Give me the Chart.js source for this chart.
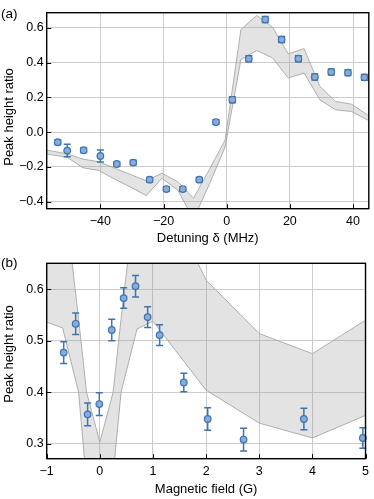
<!DOCTYPE html>
<html>
<head>
<meta charset="utf-8">
<script src="https://cdn.jsdelivr.net/npm/chart.js@4.4.0/dist/chart.umd.min.js"></script>
<style>
  html, body { margin: 0; padding: 0; background: #fff; }
  #wrap { position: relative; width: 374px; height: 499px; }
  canvas { position: absolute; left: 0; }
</style>
</head>
<body>
<div id="wrap">
  <canvas id="chartA" width="374" height="250" style="top:0"></canvas>
  <canvas id="chartB" width="374" height="249" style="top:250px"></canvas>
</div>
<script>
// Panel (a): peak height ratio vs detuning
const detuning = [-53.5, -50.5, -45.3, -40, -34.8, -29.6, -24.4, -19.1, -13.9, -8.7, -3.4, 1.8, 7, 12.2, 17.4, 22.7, 27.9, 33.1, 38.4, 43.6];
const ratioA = [-0.058, -0.106, -0.104, -0.137, -0.183, -0.175, -0.273, -0.327, -0.327, -0.273, 0.058, 0.186, 0.422, 0.647, 0.532, 0.422, 0.317, 0.346, 0.342, 0.315];
const errA = [0.013, 0.036, 0.013, 0.034, 0.013, 0.013, 0.013, 0.013, 0.013, 0.013, 0.013, 0.017, 0.017, 0.017, 0.017, 0.017, 0.017, 0.017, 0.017, 0.017];
const bandXA = [-60.5, -55.5, -50.5, -45.5, -40.5, -35.5, -30.5, -25.5, -20.5, -15.5, -10.5, -5.5, -0.5, 4.5, 9.5, 14.5, 19.5, 24.5, 29.5, 34.5, 39.5, 44.5, 49.5];
const upperA = [-0.09, -0.108, -0.125, -0.155, -0.17, -0.207, -0.243, -0.28, -0.236, -0.285, -0.38, -0.215, -0.045, 0.59, 0.67, 0.603, 0.45, 0.48, 0.263, 0.176, 0.161, 0.10, 0.05];
const lowerA = [-0.115, -0.13, -0.145, -0.205, -0.22, -0.27, -0.315, -0.365, -0.265, -0.333, -0.5, -0.3, -0.085, 0.417, 0.469, 0.427, 0.311, 0.34, 0.186, 0.128, 0.119, 0.071, 0.03];
const xTicksA = [-40, -20, 0, 20, 40];
const yTicksA = [-0.4, -0.2, 0.0, 0.2, 0.4, 0.6];

// Panel (b): peak height ratio vs magnetic field
const field = [-0.68, -0.455, -0.23, -0.01, 0.224, 0.448, 0.672, 0.9, 1.125, 1.58, 2.03, 2.705, 3.84, 4.95];
const ratioB = [0.477, 0.533, 0.357, 0.377, 0.521, 0.583, 0.606, 0.546, 0.511, 0.419, 0.348, 0.308, 0.348, 0.311];
const errB = [0.021, 0.021, 0.022, 0.022, 0.021, 0.02, 0.021, 0.02, 0.02, 0.018, 0.022, 0.022, 0.021, 0.02];
const bandXB = [-1, -0.7, -0.4, -0.25, 0, 0.25, 0.4, 0.7, 1, 2, 3, 4, 5];
const upperB = [1.08, 0.81, 0.543, 0.40, 0.303, 0.40, 0.543, 0.81, 0.83, 0.618, 0.514, 0.475, 0.54];
const lowerB = [0.536, 0.525, 0.40, 0.225, 0.15, 0.24, 0.40, 0.523, 0.538, 0.404, 0.34, 0.311, 0.355];
const xTicksB = [-1, 0, 1, 2, 3, 4, 5];
const yTicksB = [0.3, 0.4, 0.5, 0.6];

const FONT = "'Liberation Sans', Arial, sans-serif";
const BLUE = '#3b74b2';
const MARKER = '#8aabd6';

const minus = s => String(s).replace('-', '\u2212');
const pts = (xs, ys) => xs.map((x, i) => ({ x, y: ys[i] }));

// error bars drawn just before the marker dataset
const errorBars = {
  id: 'errorBars',
  beforeDatasetDraw(chart, args) {
    const ds = chart.data.datasets[args.index];
    if (!ds.errors) return;
    const { ctx, scales: { x, y } } = chart;
    ctx.save();
    ctx.strokeStyle = BLUE;
    ctx.lineWidth = 1.5;
    ds.data.forEach((p, i) => {
      const px = x.getPixelForValue(p.x);
      const top = y.getPixelForValue(p.y + ds.errors[i]);
      const bot = y.getPixelForValue(p.y - ds.errors[i]);
      ctx.beginPath();
      ctx.moveTo(px, top); ctx.lineTo(px, bot);
      ctx.moveTo(px - 3.5, top); ctx.lineTo(px + 3.5, top);
      ctx.moveTo(px - 3.5, bot); ctx.lineTo(px + 3.5, bot);
      ctx.stroke();
    });
    ctx.restore();
  }
};

// box, inward ticks, axis titles and panel label
const frame = {
  id: 'frame',
  afterDraw(chart, args, opts) {
    const { ctx, chartArea: a, scales: { x, y } } = chart;
    ctx.save();
    ctx.strokeStyle = '#000';
    ctx.lineWidth = 1;
    ctx.beginPath();
    x.ticks.forEach(t => {
      const px = Math.round(x.getPixelForValue(t.value)) + 0.5;
      ctx.moveTo(px, a.bottom); ctx.lineTo(px, a.bottom - 4.5);
    });
    y.ticks.forEach(t => {
      const py = Math.round(y.getPixelForValue(t.value)) + 0.5;
      ctx.moveTo(a.left, py); ctx.lineTo(a.left + 4.5, py);
    });
    ctx.stroke();
    ctx.lineWidth = 1.4;
    ctx.strokeRect(a.left, a.top, a.right - a.left, a.bottom - a.top);

    ctx.fillStyle = '#000';
    ctx.font = '13px ' + FONT;
    ctx.textAlign = 'center';
    ctx.textBaseline = 'middle';
    ctx.fillText(opts.xTitle, (a.left + a.right) / 2, opts.xTitleY);
    ctx.save();
    ctx.translate(9, opts.yTitleY);
    ctx.rotate(-Math.PI / 2);
    ctx.fillText('Peak height ratio', 0, 0);
    ctx.restore();
    ctx.font = '13.5px ' + FONT;
    ctx.textAlign = 'left';
    ctx.fillText(opts.label, 1, opts.labelY);
    ctx.restore();
  }
};

function makeChart(id, cfg) {
  const tickFont = { family: FONT, size: 12.5 };
  return new Chart(document.getElementById(id), {
    type: 'scatter',
    data: {
      datasets: [
        {
          data: pts(cfg.xs, cfg.ys),
          errors: cfg.errs,
          backgroundColor: MARKER,
          borderColor: BLUE,
          borderWidth: 1.2,
          pointRadius: 3.3,
          clip: false,
          order: 0
        },
        {
          data: pts(cfg.bandX, cfg.lower),
          showLine: true,
          borderColor: '#a8a8a8',
          borderWidth: 0.9,
          pointRadius: 0,
          fill: false,
          order: 2
        },
        {
          data: pts(cfg.bandX, cfg.upper),
          showLine: true,
          borderColor: '#a8a8a8',
          borderWidth: 0.9,
          pointRadius: 0,
          backgroundColor: 'rgba(150,150,150,0.27)',
          fill: '-1',
          order: 1
        }
      ]
    },
    options: {
      responsive: false,
      animation: false,
      events: [],
      layout: { padding: { top: cfg.top, right: 4.7, left: 0, bottom: 0 } },
      plugins: {
        legend: { display: false },
        tooltip: { enabled: false },
        frame: { xTitle: cfg.xTitle, xTitleY: cfg.xTitleY, yTitleY: cfg.yTitleY, label: cfg.label, labelY: cfg.labelY }
      },
      scales: {
        x: {
          type: 'linear',
          min: cfg.xMin, max: cfg.xMax,
          afterBuildTicks: s => { s.ticks = cfg.xTicks.map(v => ({ value: v })); },
          afterFit: s => { s.height = cfg.xAxisH; },
          ticks: { color: '#000', font: tickFont, padding: 5, maxRotation: 0, autoSkip: false, callback: v => minus(v) },
          grid: { color: '#cccccc', lineWidth: 1, drawTicks: false },
          border: { display: false }
        },
        y: {
          type: 'linear',
          min: cfg.yMin, max: cfg.yMax,
          afterBuildTicks: s => { s.ticks = cfg.yTicks.map(v => ({ value: v })); },
          afterFit: s => { s.width = 46.7; },
          ticks: { color: '#000', font: tickFont, padding: 3, callback: v => minus(v.toFixed(1)) },
          grid: { color: '#cccccc', lineWidth: 1, drawTicks: false },
          border: { display: false }
        }
      }
    },
    plugins: [errorBars, frame]
  });
}

makeChart('chartA', {
  xs: detuning, ys: ratioA, errs: errA,
  bandX: bandXA, upper: upperA, lower: lowerA,
  xTicks: xTicksA, yTicks: yTicksA,
  xMin: -57, xMax: 45, yMin: -0.44, yMax: 0.6865,
  top: 12.7, xAxisH: 41.3,
  xTitle: 'Detuning \u03b4 (MHz)', xTitleY: 238, yTitleY: 117,
  label: '(a)', labelY: 14
});

makeChart('chartB', {
  xs: field, ys: ratioB, errs: errB,
  bandX: bandXB, upper: upperB, lower: lowerB,
  xTicks: xTicksB, yTicks: yTicksB,
  xMin: -1, xMax: 5, yMin: 0.2708, yMax: 0.6506,
  top: 13.3, xAxisH: 40.3,
  xTitle: 'Magnetic field (G)', xTitleY: 239, yTitleY: 104,
  label: '(b)', labelY: 13.5
});
</script>
</body>
</html>
